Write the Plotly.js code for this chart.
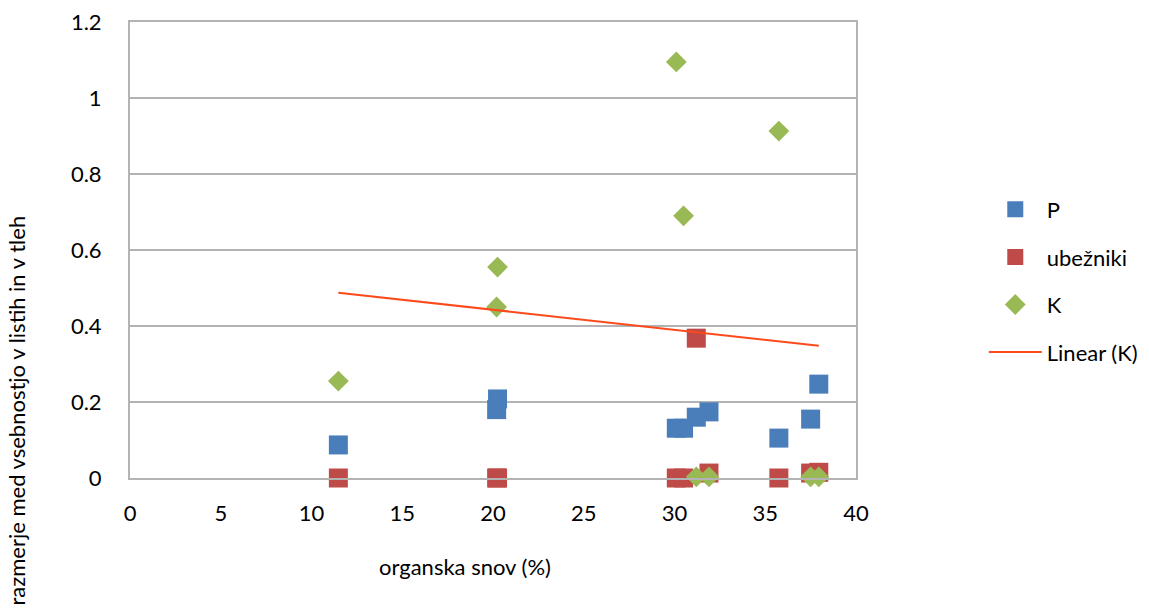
<!DOCTYPE html>
<html>
<head>
<meta charset="utf-8">
<script src="https://cdn.plot.ly/plotly-3.0.1.min.js"></script>
<style>html,body{margin:0;padding:0;background:#fff}#chart{width:1149px;height:613px}</style>
</head>
<body>
<div id="chart"></div>
<script>
// organska snov (%) per sample
const organicMatter = [11.48, 20.2, 20.25, 30.1, 30.5, 31.2, 31.9, 35.75, 37.5, 37.95];
const seriesP = [0.087, 0.18, 0.208, 0.131, 0.131, 0.16, 0.174, 0.105, 0.155, 0.247];
const seriesUbezniki = [0.0, 0.0, 0.0, 0.0, 0.0, 0.368, 0.013, 0.0, 0.013, 0.015];
const seriesK = [0.255, 0.45, 0.555, 1.095, 0.69, 0.003, 0.003, 0.913, 0.003, 0.003];
const yTicks = [0, 0.2, 0.4, 0.6, 0.8, 1, 1.2];
const yTickLabels = ['0', '0.2', '0.4', '0.6', '0.8', '1', '1.2'];
const xTicks = [0, 5, 10, 15, 20, 25, 30, 35, 40];

// linear trendline for K (least squares)
function linFit(xs, ys) {
  const n = xs.length;
  const mx = xs.reduce((a, b) => a + b, 0) / n;
  const my = ys.reduce((a, b) => a + b, 0) / n;
  let sxy = 0, sxx = 0;
  for (let i = 0; i < n; i++) { sxy += (xs[i] - mx) * (ys[i] - my); sxx += (xs[i] - mx) ** 2; }
  const b = sxy / sxx;
  return { a: my - b * mx, b: b };
}
const fit = linFit(organicMatter, seriesK);
const xMin = Math.min(...organicMatter), xMax = Math.max(...organicMatter);
const trendX = [xMin, xMax];
const trendY = trendX.map(x => fit.a + fit.b * x);

const font = "Lato, 'Open Sans', sans-serif";
const fs = 22;

const traces = [
  { x: organicMatter, y: seriesP, name: 'P', type: 'scatter', mode: 'markers', legendgroup: 'g1', cliponaxis: false,
    marker: { symbol: 'square', size: 19, color: '#4a7ebb' } },
  { x: organicMatter, y: seriesUbezniki, name: 'ubežniki', type: 'scatter', mode: 'markers', legendgroup: 'g2', cliponaxis: false,
    marker: { symbol: 'square', size: 19, color: '#be4b48' } },
  { x: organicMatter, y: seriesK, name: 'K', type: 'scatter', mode: 'markers', legendgroup: 'g3', cliponaxis: false,
    marker: { symbol: 'diamond', size: 16, color: '#98b954' } },
  { x: trendX, y: trendY, name: 'Linear (K)', type: 'scatter', mode: 'lines', legendgroup: 'g4',
    line: { color: '#ff4a1c', width: 2 } }
];

const layout = {
  width: 1149, height: 613,
  margin: { l: 130, r: 293, t: 22, b: 135, autoexpand: false },
  paper_bgcolor: '#ffffff', plot_bgcolor: '#ffffff',
  font: { family: font, size: fs, color: '#000000' },
  showlegend: true,
  legend: { x: 1.176, y: 0.432, xanchor: 'left', yanchor: 'middle', tracegroupgap: 16, itemwidth: 53,
    font: { family: font, size: fs, color: '#000' }, bgcolor: 'rgba(0,0,0,0)' },
  xaxis: {
    range: [0, 40], tickvals: xTicks, ticktext: xTicks.map(String),
    showgrid: false, zeroline: false, showline: true, linecolor: '#b3b3b3', linewidth: 2,
    mirror: true, ticks: '', ticklabelstandoff: 15
  },
  yaxis: {
    range: [0, 1.2], tickvals: yTicks, ticktext: yTickLabels,
    showgrid: true, gridcolor: '#b3b3b3', gridwidth: 2, zeroline: false,
    showline: true, linecolor: '#b3b3b3', linewidth: 2, mirror: true, ticks: '',
    ticklabelstandoff: 22
  },
  annotations: [{
    text: 'razmerje med vsebnostjo v listih in v tleh', textangle: -90,
    xref: 'paper', yref: 'paper', x: -0.157, y: 0.148, xanchor: 'center', yanchor: 'middle',
    showarrow: false, font: { family: font, size: fs, color: '#000' }
  }, {
    text: 'organska snov (%)',
    xref: 'paper', yref: 'paper', x: 0.461, y: -0.193, xanchor: 'center', yanchor: 'middle',
    showarrow: false, font: { family: font, size: fs, color: '#000' }
  }]
};

Plotly.newPlot('chart', traces, layout, { staticPlot: true, displayModeBar: false });
</script>
</body>
</html>
